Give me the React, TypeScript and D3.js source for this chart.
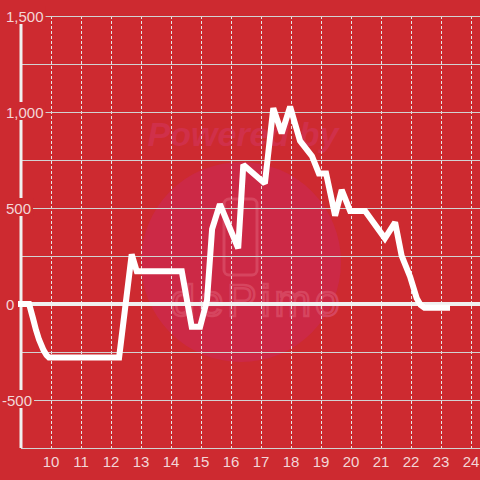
import React from "react";
import * as d3 from "d3";

const times = [9.0, 9.27, 9.4, 9.5, 9.6, 9.75, 9.85, 9.93, 12.27, 12.69, 12.86, 14.36, 14.69, 14.97, 15.2, 15.37, 15.63, 16.24, 16.41, 17.13, 17.41, 17.69, 17.97, 18.3, 18.7, 18.93, 19.17, 19.47, 19.69, 19.97, 20.47, 21.13, 21.47, 21.69, 21.97, 22.19, 22.32, 22.45, 23.2];
const values = [0, 0, -75, -135, -185, -240, -266, -278, -278, 258, 170, 170, -118, -118, 20, 390, 520, 290, 725, 628, 1020, 889, 1028, 850, 770, 680, 680, 460, 594, 485, 485, 342, 425, 250, 142, 30, -5, -20, -20];
const yTickValues = [-500, 0, 500, 1000, 1500];
const yGridValues = [-750, -500, -250, 0, 250, 500, 750, 1000, 1250, 1500];
const xTickValues = [10, 11, 12, 13, 14, 15, 16, 17, 18, 19, 20, 21, 22, 23, 24];

const W = 480;
const H = 480;
const BG = "#cd2a30";
const LABEL = "#f3d6d7";
const FONT = "'Liberation Sans', Arial, sans-serif";

const fmt = d3
  .formatLocale({ decimal: ".", thousands: ",", grouping: [3], currency: ["$", ""], minus: "-" })
  .format(",");

function textWidth(s: string) {
  let w = 0;
  for (const c of s) {
    if (c === ",") w += 4.17;
    else if (c === "-") w += 5.0;
    else w += 8.34;
  }
  return w;
}

export default function App() {
  const x = d3.scaleLinear().domain([9, 24.3]).range([21, 480]);
  const y = d3.scaleLinear().domain([-750, 1500]).range([448, 16]);
  const pts = times.map((t, i) => [t, values[i]] as [number, number]);
  const line = d3
    .line<[number, number]>()
    .x((d) => x(d[0]))
    .y((d) => y(d[1]))
    .curve(d3.curveLinear);

  return (
    <svg
      width={W}
      height={H}
      style={{ position: "absolute", left: 0, top: 0, display: "block" }}
      fontFamily={FONT}
    >
      <rect x={0} y={0} width={W} height={H} fill={BG} />
      {/* watermark */}
      <g>
        <circle cx={241} cy={262} r={100} fill="#cc2946" />
        <text
          x={243}
          y={146}
          textAnchor="middle"
          fontSize={34}
          fontStyle="italic"
          fontWeight="bold"
          fill="#d0304a"
        >
          Powered by
        </text>
        <rect x={224} y={199} width={33} height={76} rx={5} fill="none" stroke="#d6455f" strokeWidth={3} />
        <text
          x={257}
          y={316}
          textAnchor="middle"
          fontSize={44}
          fill="none"
          stroke="#d6455f"
          strokeWidth={2.5}
          letterSpacing={4}
        >
          dePimo
        </text>
      </g>
      {/* vertical dashed grid */}
      {xTickValues.map((t) => (
        <line
          key={"vx" + t}
          x1={x(t) + 0.5}
          x2={x(t) + 0.5}
          y1={y(1500)}
          y2={y(-750)}
          stroke="#e6e6e6"
          strokeWidth={1}
          strokeDasharray="3,2"
        />
      ))}
      {/* horizontal grid */}
      {yGridValues.map((v) => (
        <line
          key={"hy" + v}
          x1={x(9)}
          x2={W}
          y1={Math.round(y(v)) + 0.5}
          y2={Math.round(y(v)) + 0.5}
          stroke="#d2d2d2"
          strokeWidth={1}
        />
      ))}
      {/* zero line */}
      <line x1={x(9)} x2={W} y1={y(0)} y2={y(0)} stroke="#f0f0f0" strokeWidth={4} />
      {/* y axis */}
      <line x1={x(9)} x2={x(9)} y1={y(1500)} y2={y(-750)} stroke="#f0f0f0" strokeWidth={3} />
      {/* y tick labels */}
      {yTickValues.map((v) => {
        const s = fmt(v);
        const w = textWidth(s);
        const x0 = v < 0 ? 2 : 6;
        return (
          <g key={"yl" + v}>
            <rect x={x0 - 1} y={y(v) - 10} width={w + 3} height={18} fill={BG} />
            <text x={x0} y={y(v) + 5.5} fontSize={15} fill={LABEL}>
              {s}
            </text>
          </g>
        );
      })}
      {/* x tick labels */}
      {xTickValues.map((t) => (
        <text key={"xl" + t} x={x(t)} y={467} fontSize={15} fill={LABEL} textAnchor="middle">
          {t}
        </text>
      ))}
      {/* data line */}
      <path
        d={line(pts) || ""}
        fill="none"
        stroke="#ffffff"
        strokeWidth={6}
        strokeLinecap="square"
        strokeLinejoin="miter"
        strokeMiterlimit={2}
      />
    </svg>
  );
}
